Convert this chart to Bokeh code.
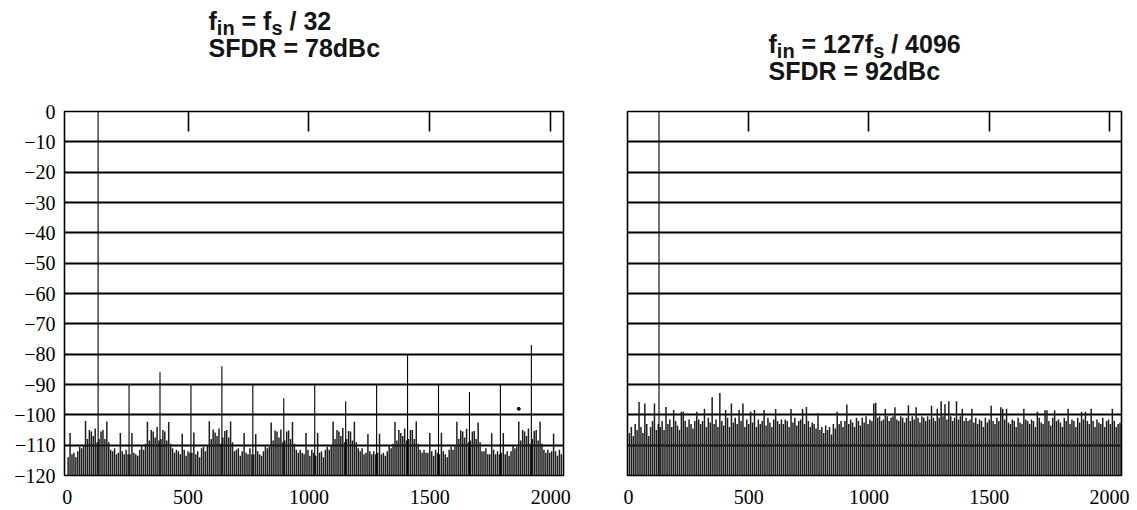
from bokeh.plotting import figure
from bokeh.layouts import row, column
from bokeh.models import LinearAxis, FixedTicker, Range1d
from bokeh.core.properties import value
from bokeh.embed import file_html
from bokeh.resources import INLINE

# ---------------- data ----------------
x_ticks = [0, 500, 1000, 1500, 2000]
y_ticks = [0, -10, -20, -30, -40, -50, -60, -70, -80, -90, -100, -110, -120]
y_floor = -120

# left: fin = fs/32 -> harmonic spurs at multiples of bin 128
left_spur_bins = [128, 256, 384, 512, 640, 768, 896, 1024, 1152, 1280, 1408, 1536, 1664, 1792, 1920]
left_spur_db = [0, -90, -86, -90, -84, -90, -94.5, -90, -95.5, -90, -80, -90, -92.5, -90, -77]
left_dot_bin = [1868]
left_dot_db = [-98]

# noise floor, one value per 8-bin slot (bins 4, 12, ... 2044)
left_noise = [
    -114, -106, -113, -112.5, -114, -112, -110.5, -111, -110, -102, -108, -105, -105.5, -107, -104.5, -109,
    -108, -105.5, -105, -108, -102.2, -109, -111.5, -112, -111, -113, -112.5, -106, -112, -113, -111.5, -113,
    -113, -106, -112.5, -113, -113.5, -111.5, -110, -111.5, -109.5, -102.3, -108.5, -105, -105.5, -107.5, -104, -108.5,
    -108, -105, -105.5, -108.5, -102.4, -109.5, -111, -112.5, -111.5, -112, -113, -106.2, -111.5, -113.5, -112, -112.5,
    -112.5, -105.8, -113, -112, -114, -111, -110.5, -112, -110, -102.1, -108, -104.8, -105.8, -107, -104.5, -109.5,
    -107.5, -105.3, -105, -107.5, -102.2, -109, -112, -111.5, -111, -113.5, -112, -106, -112.5, -113, -111, -113,
    -113, -106.3, -112, -113, -113.5, -112, -110, -111, -110.5, -102.5, -108.5, -105.2, -105.5, -107.5, -104.8, -109,
    -108.5, -105.5, -105.2, -108, -102.4, -109.5, -111.5, -112.5, -111.5, -112.5, -113, -106, -111.5, -113.5, -111.5, -112.5,
    -113.5, -106, -112.5, -112, -114, -111.5, -110.5, -111.5, -110, -102.2, -108, -105, -105.5, -107, -104.3, -109,
    -108, -105.3, -105.5, -108.5, -102.3, -109, -111, -112, -111, -113, -112.5, -106.3, -112, -113, -112, -113,
    -112.5, -106.2, -113, -112.5, -113.5, -112, -110, -111, -109.5, -102.4, -108.5, -105, -106, -107, -104.5, -108.5,
    -108, -105, -105, -108, -102.2, -109.5, -111.5, -112.5, -111.5, -112.5, -112.5, -106, -112, -113.5, -111.5, -112.5,
    -113, -105.9, -112, -113, -114, -111.5, -110.5, -111.5, -110, -102.3, -108, -105.2, -105.5, -107.5, -104.6, -109,
    -108.5, -105.5, -105.3, -108, -102.5, -109, -112, -112, -111, -113, -113, -106.1, -111.5, -113, -112, -113,
    -112.5, -106, -113, -112, -113.5, -112, -110, -111, -110.5, -102.2, -108.5, -105, -105.5, -107, -104.5, -109.5,
    -108, -105.3, -105, -108.5, -102.3, -109.5, -111.5, -112.5, -111.5, -112.5, -112, -106.2, -112, -113.5, -111.5, -113,
]

# right: fin = 127 fs / 4096
right_fund_bin = [127]
right_fund_db = [0]
right_noise = [
    -106, -104, -107, -103, -105, -95.8, -104, -106, -96.3, -103, -107, -104, -102, -96.3, -105, -103,
    -104, -102, -105, -97.4, -103, -101.5, -104, -98.4, -102, -103.5, -105, -99, -99, -102, -104, -101.5,
    -103, -104.5, -102, -99, -101.5, -103, -102, -98, -104, -101, -102.5, -94.2, -103, -101.5, -104, -92.8,
    -102, -103.5, -98.4, -101, -104, -96.3, -102.5, -101, -103, -98.4, -102, -96.3, -104, -101.5, -103, -99,
    -102.5, -98.4, -104, -101.5, -103, -102, -98.4, -103.5, -101, -102.5, -104, -101.5, -98.1, -102, -103, -101.5,
    -103, -101.5, -102, -104, -98.1, -102.5, -101, -103.5, -102, -101.5, -98.1, -103, -97.4, -102, -104, -102.5,
    -103, -104.5, -99.5, -105, -104, -106, -103.5, -105, -104, -106.5, -103, -104.5, -99, -103, -102, -104,
    -102, -96.6, -103, -101.5, -102.5, -104, -101, -102, -103.5, -101, -102.5, -100.5, -103, -101.5, -102, -96.3,
    -96, -101, -100.5, -102, -101.5, -98, -100.5, -102, -101, -100.5, -97.5, -101.5, -102, -100.5, -101, -102.5,
    -101, -96.8, -102, -100.5, -101.5, -97.5, -101, -102.5, -100.5, -101, -102, -100.5, -101.5, -97, -101, -102,
    -98, -101, -95.5, -100.5, -96.5, -101.5, -95.5, -100.5, -102, -101, -95.5, -101.5, -100.5, -98, -102, -101,
    -102, -101.5, -98, -102.5, -101, -103, -101.5, -102, -104, -101, -102.5, -101.5, -97, -102, -103, -101,
    -102, -97.5, -98, -101.5, -98, -102.5, -103, -101.5, -102, -104, -101, -102.5, -103, -98, -101.5, -102,
    -103, -101.5, -102, -104, -99, -101, -102.5, -103, -98.5, -98.5, -102, -103.5, -101, -98.5, -102, -101.5,
    -102.5, -104, -101, -102, -98, -103, -101.5, -102, -104, -101, -102.5, -99, -101.5, -99, -102, -103,
    -98, -102, -104, -101.5, -102.5, -103, -101, -104, -102, -101.5, -103, -98, -102, -104, -103, -102.5,
]
noise_bins = [8 * i + 4 for i in range(len(left_noise))]

title_left = [[("f", 0), ("in", 1), (" = f", 0), ("s", 1), (" / 32", 0)],
              [("SFDR = 78dBc", 0)]]
title_right = [[("f", 0), ("in", 1), (" = 127f", 0), ("s", 1), (" / 4096", 0)],
               [("SFDR = 92dBc", 0)]]

# ---------------- styling helpers ----------------
# Arial/Liberation Sans Bold advance widths (1/1000 em)
ARIAL_B = {'f': 333, 'i': 278, 'n': 611, ' ': 278, '=': 584, 's': 556, '/': 278,
           'S': 667, 'F': 611, 'D': 722, 'R': 722, 'd': 611, 'B': 722, 'c': 556}
for ch in "0123456789":
    ARIAL_B[ch] = 556
MAIN_FS = 25
SUB_FS = 20
SUB_DROP = 7
TITLE_FONT = "Liberation Sans"
TITLE_STYLE = "bold"
SERIF = "Liberation Serif"
TITLE_H = 100
NOISE_COLOR = "#1e1e1e"


def text_width(s, fs):
    return sum(ARIAL_B.get(c, 556) for c in s) / 1000.0 * fs


def make_fig(width, height, bl, br, bt, bb, xr, show_y_labels):
    p = figure(width=width, height=height, x_range=Range1d(*xr), y_range=Range1d(-120, 0),
               output_backend="svg", toolbar_location=None, title_location=None,
               min_border_left=bl, min_border_right=br, min_border_top=bt, min_border_bottom=bb)
    p.background_fill_color = "white"
    p.border_fill_color = "white"
    p.outline_line_color = "black"
    p.outline_line_width = 1.6
    p.xgrid.visible = False
    p.ygrid.ticker = FixedTicker(ticks=y_ticks)
    p.ygrid.grid_line_color = "black"
    p.ygrid.grid_line_width = 2
    p.ygrid.grid_line_alpha = 1

    xa = p.xaxis[0]
    xa.ticker = FixedTicker(ticks=x_ticks)
    xa.axis_line_color = None
    xa.major_tick_line_color = None
    xa.minor_tick_line_color = None
    xa.major_label_text_font = SERIF
    xa.major_label_text_font_size = "20px"
    xa.major_label_text_color = "black"
    xa.major_label_standoff = 8

    ya = p.yaxis[0]
    ya.ticker = FixedTicker(ticks=y_ticks)
    ya.axis_line_color = None
    ya.major_tick_line_color = None
    ya.minor_tick_line_color = None
    ya.major_label_text_font = SERIF
    ya.major_label_text_font_size = "20px"
    ya.major_label_text_color = "black"
    ya.major_label_standoff = 3
    ya.major_label_overrides = {t: ("0" if t == 0 else "\u2212" + str(-t)) for t in y_ticks}
    if not show_y_labels:
        ya.major_label_text_color = None

    top = LinearAxis(ticker=FixedTicker(ticks=x_ticks[1:]))
    top.axis_line_color = None
    top.major_tick_in = 20
    top.major_tick_out = 0
    top.major_tick_line_color = "black"
    top.major_tick_line_width = 1.6
    top.minor_tick_line_color = None
    top.major_label_text_color = None
    top.major_label_text_font_size = "1px"
    top.major_label_standoff = 0
    p.add_layout(top, "above")
    return p


# ---------------- title strip ----------------
pt = figure(width=1137, height=TITLE_H, x_range=Range1d(0, 1137), y_range=Range1d(TITLE_H, 0),
            output_backend="svg", toolbar_location=None, title_location=None, min_border=0)
pt.axis.visible = False
pt.grid.visible = False
pt.outline_line_color = None
pt.background_fill_color = "white"
pt.border_fill_color = "white"


def add_title(lines, start_px, baselines_px):
    for line, base in zip(lines, baselines_px):
        cx = start_px
        xs_m, ys_m, ts_m, xs_s, ys_s, ts_s = [], [], [], [], [], []
        for txt, sub in line:
            fs = SUB_FS if sub else MAIN_FS
            lead = len(txt) - len(txt.lstrip(" "))
            shown = txt.strip(" ")
            px = cx + text_width(" " * lead, fs)
            if sub:
                xs_s.append(px); ys_s.append(base + SUB_DROP); ts_s.append(shown)
            else:
                xs_m.append(px); ys_m.append(base); ts_m.append(shown)
            cx += text_width(txt, fs)
        pt.text(x=xs_m, y=ys_m, text=ts_m, text_font=value(TITLE_FONT), text_font_style=TITLE_STYLE,
                text_font_size=value(f"{MAIN_FS}px"), text_color="#151515",
                text_baseline="alphabetic", text_align="left")
        if ts_s:
            pt.text(x=xs_s, y=ys_s, text=ts_s, text_font=value(TITLE_FONT), text_font_style=TITLE_STYLE,
                    text_font_size=value(f"{SUB_FS}px"), text_color="#151515",
                    text_baseline="alphabetic", text_align="left")


add_title(title_left, 208, [20, 47])
add_title(title_right, 768, [43, 70])

# ---------------- left panel ----------------
PH = 510 - TITLE_H
pl = make_fig(600, PH, 64, 37, 108 - TITLE_H, 35, (-11, 2053), True)
pl.segment(x0=noise_bins, y0=y_floor, x1=noise_bins, y1=left_noise, line_color=NOISE_COLOR, line_width=1.5)
pl.segment(x0=left_spur_bins, y0=y_floor, x1=left_spur_bins, y1=left_spur_db, line_color="black", line_width=1.1)
pl.scatter(x=left_dot_bin, y=left_dot_db, size=3, color="black")

# ---------------- right panel ----------------
pr = make_fig(537, PH, 27, 16, 111 - TITLE_H, 31, (-4, 2050), False)
pr.segment(x0=noise_bins, y0=y_floor, x1=noise_bins, y1=right_noise, line_color=NOISE_COLOR, line_width=1.5)
pr.segment(x0=right_fund_bin, y0=y_floor, x1=right_fund_bin, y1=right_fund_db, line_color="black", line_width=1.1)

layout = column(pt, row(pl, pr))
open("out.html", "w").write(file_html(layout, INLINE))
